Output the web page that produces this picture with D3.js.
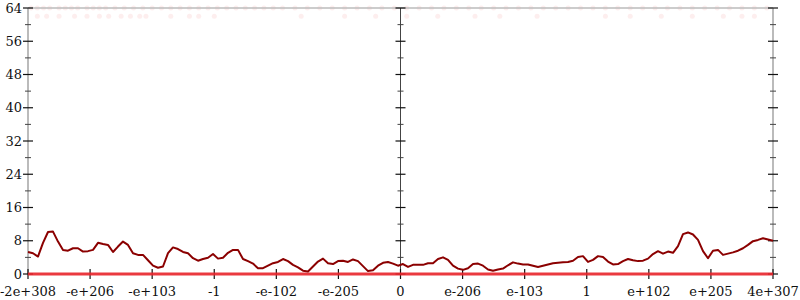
<!DOCTYPE html>
<html><head><meta charset="utf-8">
<script src="https://cdn.jsdelivr.net/npm/d3@7"></script>
<style>body{margin:0;background:#fff}svg{display:block}text{font-family:"DejaVu Serif",serif;font-size:13px;fill:#111}</style>
</head><body><svg id="c" width="800" height="300"></svg>
<script>
const xTickLabels = ["-2e+308","-e+206","-e+103","-1","-e-102","-e-205","0","e-206","e-103","1","e+102","e+205","4e+307"];
const yTicks = [0,8,16,24,32,40,48,56,64];
const yMinorTicks = [4,12,20,28,36,44,52,60];
// smoothed count series, evenly spaced across the full domain
const counts = [5.3,5.0,4.2,7.5,10.1,10.2,7.8,5.8,5.6,6.2,6.2,5.4,5.5,5.8,7.5,7.2,7.0,5.3,6.6,7.8,
7.0,5.0,4.6,4.6,3.3,2.0,1.5,1.8,5.0,6.4,6.0,5.3,5.0,3.8,3.2,3.6,3.9,4.8,3.7,3.9,
5.1,5.8,5.8,3.6,3.1,2.5,1.4,1.4,2.0,2.6,2.9,3.6,3.1,2.2,1.6,0.8,0.6,1.8,3.0,3.7,
2.6,2.4,3.1,3.2,2.9,3.5,3.1,1.9,0.7,0.9,2.0,2.7,2.9,2.5,2.0,2.4,1.7,2.2,2.2,2.2,
2.6,2.6,3.6,4.0,3.4,2.0,1.3,1.0,1.4,2.4,2.5,2.0,1.1,0.8,1.1,1.3,2.1,2.8,2.5,2.3,
2.3,2.0,1.7,2.0,2.3,2.6,2.7,2.8,2.9,3.2,4.1,4.3,2.9,3.4,4.3,4.1,3.0,2.3,2.4,3.1,
3.6,3.3,3.1,3.2,3.7,4.8,5.5,4.9,5.4,5.1,6.7,9.6,10.0,9.5,8.2,5.5,3.8,5.6,5.8,4.6,
4.9,5.2,5.6,6.2,7.0,7.9,8.2,8.6,8.3,8.0];
// faint raw sample dots near the top (position in tick units, value)
const topRowPos = [0.05,0.15,0.25,0.35,0.5,0.6,0.7,0.8,0.95,1.05,1.15,1.25,1.4,1.55,1.7,1.85,2.0,2.15,2.3,2.45,2.6,2.75,2.9,3.05,3.2,3.35,3.5,3.65,3.8,3.95,4.1,4.3,4.5,4.7,4.9,5.1,5.3,5.5,5.7,5.9,6.1,6.3,6.5,6.7,6.9,7.1,7.3,7.5,7.7,7.9,8.1,8.3,8.5,8.7,8.9,9.1,9.3,9.5,9.7,9.9,10.1,10.3,10.5,10.7,10.9,11.1,11.3,11.5,11.7,11.9];
const secondRowPos = [0.15,0.3,0.5,0.75,0.95,1.15,1.3,1.5,1.65,1.8,1.9,2.3,2.6,2.75,3.0,4.4,5.1,5.6,6.1,6.6,7.2,7.6,8.2,9.3,9.7,10.2,10.7,11.2,11.5,11.7];
const topRowValue = 64, secondRowValue = 62;

const svg = d3.select("#c");
const x = d3.scaleLinear().domain([0, 12]).range([28, 773]);
const y = d3.scaleLinear().domain([0, 64]).range([274, 8]);

// faint dots
const dots = svg.append("g").attr("fill", "#f07070").attr("fill-opacity", 0.12);
dots.selectAll(".t").data(topRowPos).join("circle").attr("cx", d => x(d)).attr("cy", y(topRowValue)).attr("r", 2.5);
dots.selectAll(".s").data(secondRowPos).join("circle").attr("cx", d => x(d)).attr("cy", y(secondRowValue)).attr("r", 2.5);

// top border
svg.append("line").attr("x1", x(0)).attr("x2", x(12)).attr("y1", y(64)).attr("y2", y(64))
  .attr("stroke", "#bbb").attr("stroke-width", 1.5);

function yAxis(pos, color, width, labels) {
  const g = svg.append("g");
  g.append("line").attr("x1", x(pos)).attr("x2", x(pos)).attr("y1", y(0)).attr("y2", y(64))
    .attr("stroke", color).attr("stroke-width", width);
  g.selectAll(".mj").data(yTicks).join("line")
    .attr("x1", x(pos) - 5).attr("x2", x(pos) + 5).attr("y1", d => y(d)).attr("y2", d => y(d))
    .attr("stroke", "#111").attr("stroke-width", 1.2);
  g.selectAll(".mn").data(yMinorTicks).join("line")
    .attr("x1", x(pos) - 3).attr("x2", x(pos) + 3).attr("y1", d => y(d)).attr("y2", d => y(d))
    .attr("stroke", "#444").attr("stroke-width", 1);
  if (labels) {
    g.selectAll("text").data(yTicks).join("text")
      .attr("x", x(pos) - 6).attr("y", d => y(d)).attr("dy", "0.35em")
      .attr("text-anchor", "end").text(d => d);
  }
}
yAxis(0, "#bbb", 2, true);
yAxis(6, "#444", 1, false);
yAxis(12, "#bbb", 2, false);

// x ticks and labels
const xg = svg.append("g");
xg.selectAll("line").data(xTickLabels).join("line")
  .attr("x1", (d, i) => x(i)).attr("x2", (d, i) => x(i)).attr("y1", y(0) - 5).attr("y2", y(0) + 5)
  .attr("stroke", "#111").attr("stroke-width", 1.2);
xg.selectAll("text").data(xTickLabels).join("text")
  .attr("x", (d, i) => x(i)).attr("y", 296).attr("text-anchor", "middle").text(d => d);

// zero-count band
svg.append("line").attr("x1", x(0)).attr("x2", x(12)).attr("y1", y(0)).attr("y2", y(0))
  .attr("stroke", "#e8242a").attr("stroke-opacity", 0.9).attr("stroke-width", 3);

// smoothed line
const step = 12 / (counts.length - 1);
svg.append("path").datum(counts)
  .attr("fill", "none").attr("stroke", "#8b0000").attr("stroke-width", 2).attr("stroke-linejoin", "round")
  .attr("d", d3.line().x((d, i) => x(i * step)).y(d => y(d)));
</script></body></html>
